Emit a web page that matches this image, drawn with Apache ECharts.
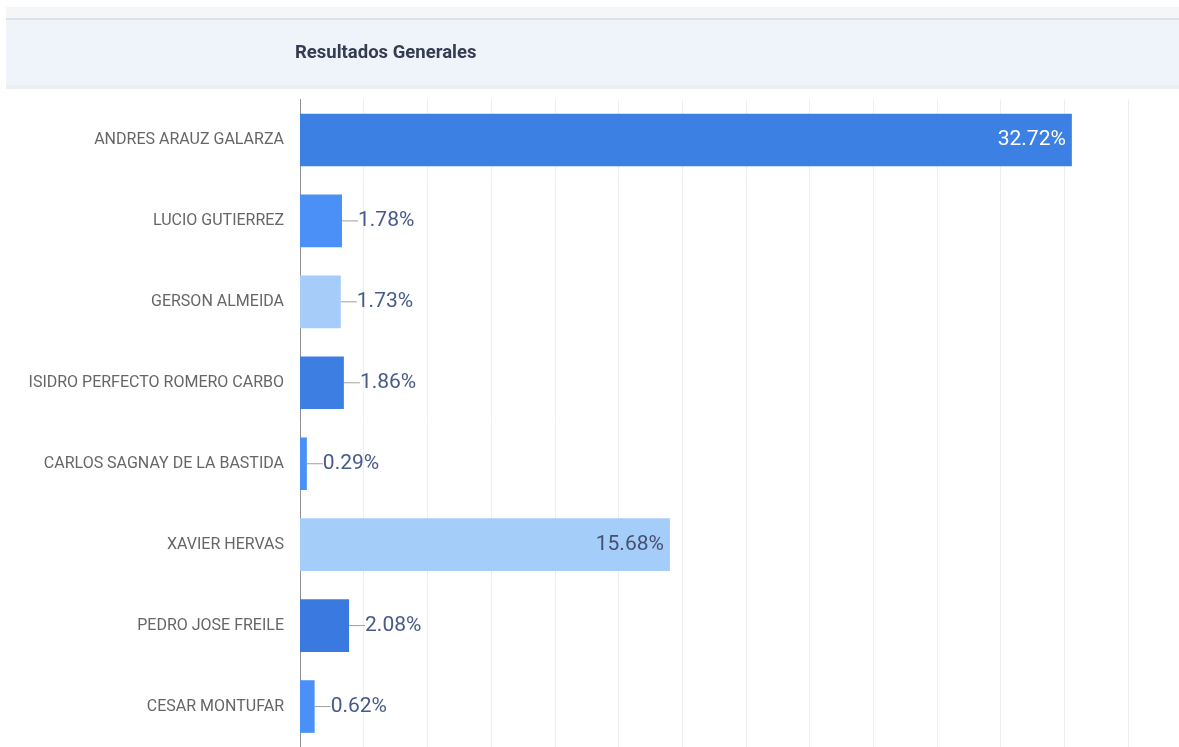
<!DOCTYPE html>
<html>
<head>
<meta charset="utf-8">
<script src="https://cdn.jsdelivr.net/npm/echarts@6/dist/echarts.min.js"></script>
<style>
html,body{margin:0;padding:0;background:#fff;}
#chart{width:1179px;height:747px;}
</style>
</head>
<body>
<div id="chart"></div>
<script>
const categories = [
  'ANDRES ARAUZ GALARZA',
  'LUCIO GUTIERREZ',
  'GERSON ALMEIDA',
  'ISIDRO PERFECTO ROMERO CARBO',
  'CARLOS SAGNAY DE LA BASTIDA',
  'XAVIER HERVAS',
  'PEDRO JOSE FREILE',
  'CESAR MONTUFAR'
];
const values = [32.72, 1.78, 1.73, 1.86, 0.29, 15.68, 2.08, 0.62];
const barColors = ['#3d80e4', '#4a90f6', '#a6cdfa', '#3c7ee2', '#4a90f6', '#a5cdfa', '#3a7ae0', '#4a90f6'];
const insideThreshold = 10;

const chart = echarts.init(document.getElementById('chart'), null, {renderer: 'canvas'});

const data = values.map((v, i) => {
  const inside = v >= insideThreshold;
  return {
    value: v,
    itemStyle: {color: barColors[i]},
    label: inside ? {
      position: 'insideRight',
      distance: 6,
      color: barColors[i] === '#a5cdfa' ? '#47506e' : '#ffffff'
    } : {
      position: 'right',
      distance: 0,
      color: '#475a8a'
    },
    labelLine: {show: !inside}
  };
});

chart.setOption({
  animation: false,
  title: {
    text: 'Resultados Generales',
    left: 295,
    top: 44,
    padding: 0,
    textStyle: {fontFamily: 'Roboto', fontSize: 18.5, fontWeight: 'bold', color: '#343c52'}
  },
  graphic: [
    {type: 'rect', left: 6, top: 7, shape: {width: 1173, height: 11}, style: {fill: '#f4f6f7'}, z: -10},
    {type: 'rect', left: 6, top: 18, shape: {width: 1173, height: 2}, style: {fill: '#dfe3e8'}, z: -10},
    {type: 'rect', left: 6, top: 20, shape: {width: 1173, height: 65}, style: {fill: '#eff3fa'}, z: -10},
    {type: 'rect', left: 6, top: 85, shape: {width: 1173, height: 4}, style: {fill: '#eceef1'}, z: -10}
  ],
  grid: {left: 300, right: 51, top: 99.5, height: 649, containLabel: false},
  xAxis: {
    type: 'value',
    min: 0,
    max: 35.1,
    interval: 2.7,
    axisLabel: {show: false},
    axisLine: {show: false},
    axisTick: {show: false},
    splitLine: {show: true, lineStyle: {color: '#eceef2', width: 1}}
  },
  yAxis: {
    type: 'category',
    data: categories,
    inverse: true,
    axisTick: {show: false},
    axisLine: {show: true, lineStyle: {color: '#8f8f8f', width: 1}},
    axisLabel: {margin: 16, fontFamily: 'Roboto', fontSize: 16, color: '#666666'}
  },
  series: [{
    type: 'bar',
    data: data,
    barCategoryGap: '35%',
    label: {
      show: true,
      fontFamily: 'Roboto',
      fontSize: 21,
      formatter: p => p.value.toFixed(2) + '%'
    },
    labelLayout: function (params) {
      return values[params.dataIndex] >= insideThreshold ? {} : {dx: 16};
    },
    labelLine: {show: true, lineStyle: {color: '#a0a0a0', width: 1}}
  }]
});
</script>
</body>
</html>
